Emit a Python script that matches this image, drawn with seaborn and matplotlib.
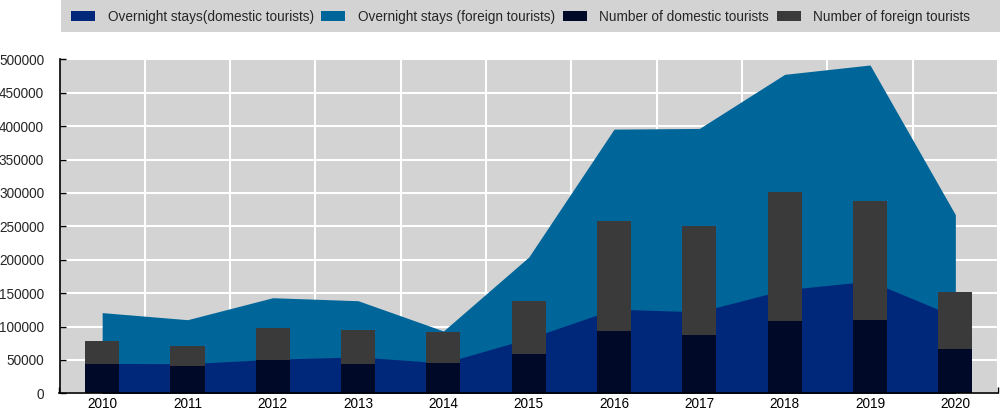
import matplotlib
matplotlib.use("Agg")
import matplotlib.pyplot as plt
import seaborn as sns
import pandas as pd
import numpy as np
from matplotlib.patches import Rectangle, Patch
from matplotlib.ticker import FixedLocator

years = ["2010", "2011", "2012", "2013", "2014", "2015", "2016", "2017", "2018", "2019", "2020"]
overnight_domestic = [44700, 44300, 51000, 54500, 45400, 82000, 126000, 122000, 155000, 168000, 115000]
overnight_foreign = [76100, 65900, 92100, 84100, 47900, 122000, 269500, 274500, 322500, 323500, 152500]
tourists_domestic = [43900, 41400, 49400, 44400, 45400, 59400, 92800, 87800, 107800, 109300, 66300]
tourists_foreign = [34400, 30000, 48900, 50400, 46900, 79300, 164700, 162200, 193100, 178100, 85400]

labels = ["Overnight stays(domestic tourists)", "Overnight stays (foreign tourists)",
          "Number of domestic tourists", "Number of foreign tourists"]
c_od, c_of, c_td, c_tf = "#00287A", "#006699", "#000A28", "#3A3A3A"
bg = "#D3D3D3"

df = pd.DataFrame({
    "year": years,
    "od": overnight_domestic,
    "of": overnight_foreign,
    "td": tourists_domestic,
    "tf": tourists_foreign,
})
df["o_total"] = df["od"] + df["of"]
df["t_total"] = df["td"] + df["tf"]

sns.set_theme(style="white")
plt.rcParams["font.family"] = ["Liberation Sans", "DejaVu Sans"]
fs = 9.8

fig = plt.figure(figsize=(10, 4.13), dpi=100)
ax = fig.add_axes([0.0595, 0.0477, 0.9385, 0.8087])
ax.set_facecolor(bg)

xpos = np.arange(len(years))
ax.fill_between(xpos, 0, df["o_total"], color=c_of, linewidth=0, zorder=1)
ax.fill_between(xpos, 0, df["od"], color=c_od, linewidth=0, zorder=1.1)

sns.barplot(data=df, x="year", y="t_total", color=c_tf, saturation=1, width=0.4,
            errorbar=None, ax=ax, zorder=2, linewidth=0)
sns.barplot(data=df, x="year", y="td", color=c_td, saturation=1, width=0.4,
            errorbar=None, ax=ax, zorder=2.1, linewidth=0)

ax.set_xlim(-0.5, len(years) - 0.5)
ax.set_ylim(0, 500000)
ax.set_yticks(np.arange(0, 500001, 50000))
ax.set_yticklabels([str(v) for v in range(0, 500001, 50000)], fontsize=fs)
ax.set_xticks(xpos)
ax.set_xticklabels(years, fontsize=fs)
ax.xaxis.set_minor_locator(FixedLocator(np.arange(-0.5, len(years), 1.0)))
ax.tick_params(axis="x", which="major", length=0, pad=3, colors="black")
ax.tick_params(axis="x", which="minor", length=4, direction="in", width=1, color="black", bottom=True)
ax.tick_params(axis="y", which="major", length=4, direction="in", width=1, color="black", pad=11, left=True)
ax.set_xlabel("")
ax.set_ylabel("")

ax.grid(False)
ax.set_axisbelow(True)
ax.yaxis.grid(True, color="white", linewidth=1.5, zorder=0)
ax.xaxis.grid(True, which="minor", color="white", linewidth=1.5, zorder=0)

for s in ["top", "right"]:
    ax.spines[s].set_visible(False)
for s in ["left", "bottom"]:
    ax.spines[s].set_color("black")
    ax.spines[s].set_linewidth(1.2)

# legend background band
fig.patches.append(Rectangle((61 / 1000, 1 - 32 / 413), 939 / 1000, 32 / 413,
                             transform=fig.transFigure, facecolor=bg, edgecolor="none", zorder=0))
handles = [Patch(facecolor=c, edgecolor="none") for c in (c_od, c_of, c_td, c_tf)]
fig.legend(handles, labels, loc="center left", bbox_to_anchor=(0.071, 1 - 17 / 413), ncol=4,
           frameon=False, fontsize=fs, handlelength=1.75, handleheight=0.72,
           handletextpad=0.95, columnspacing=0.55, borderpad=0, borderaxespad=0)

fig.savefig("out.png", dpi=100)
